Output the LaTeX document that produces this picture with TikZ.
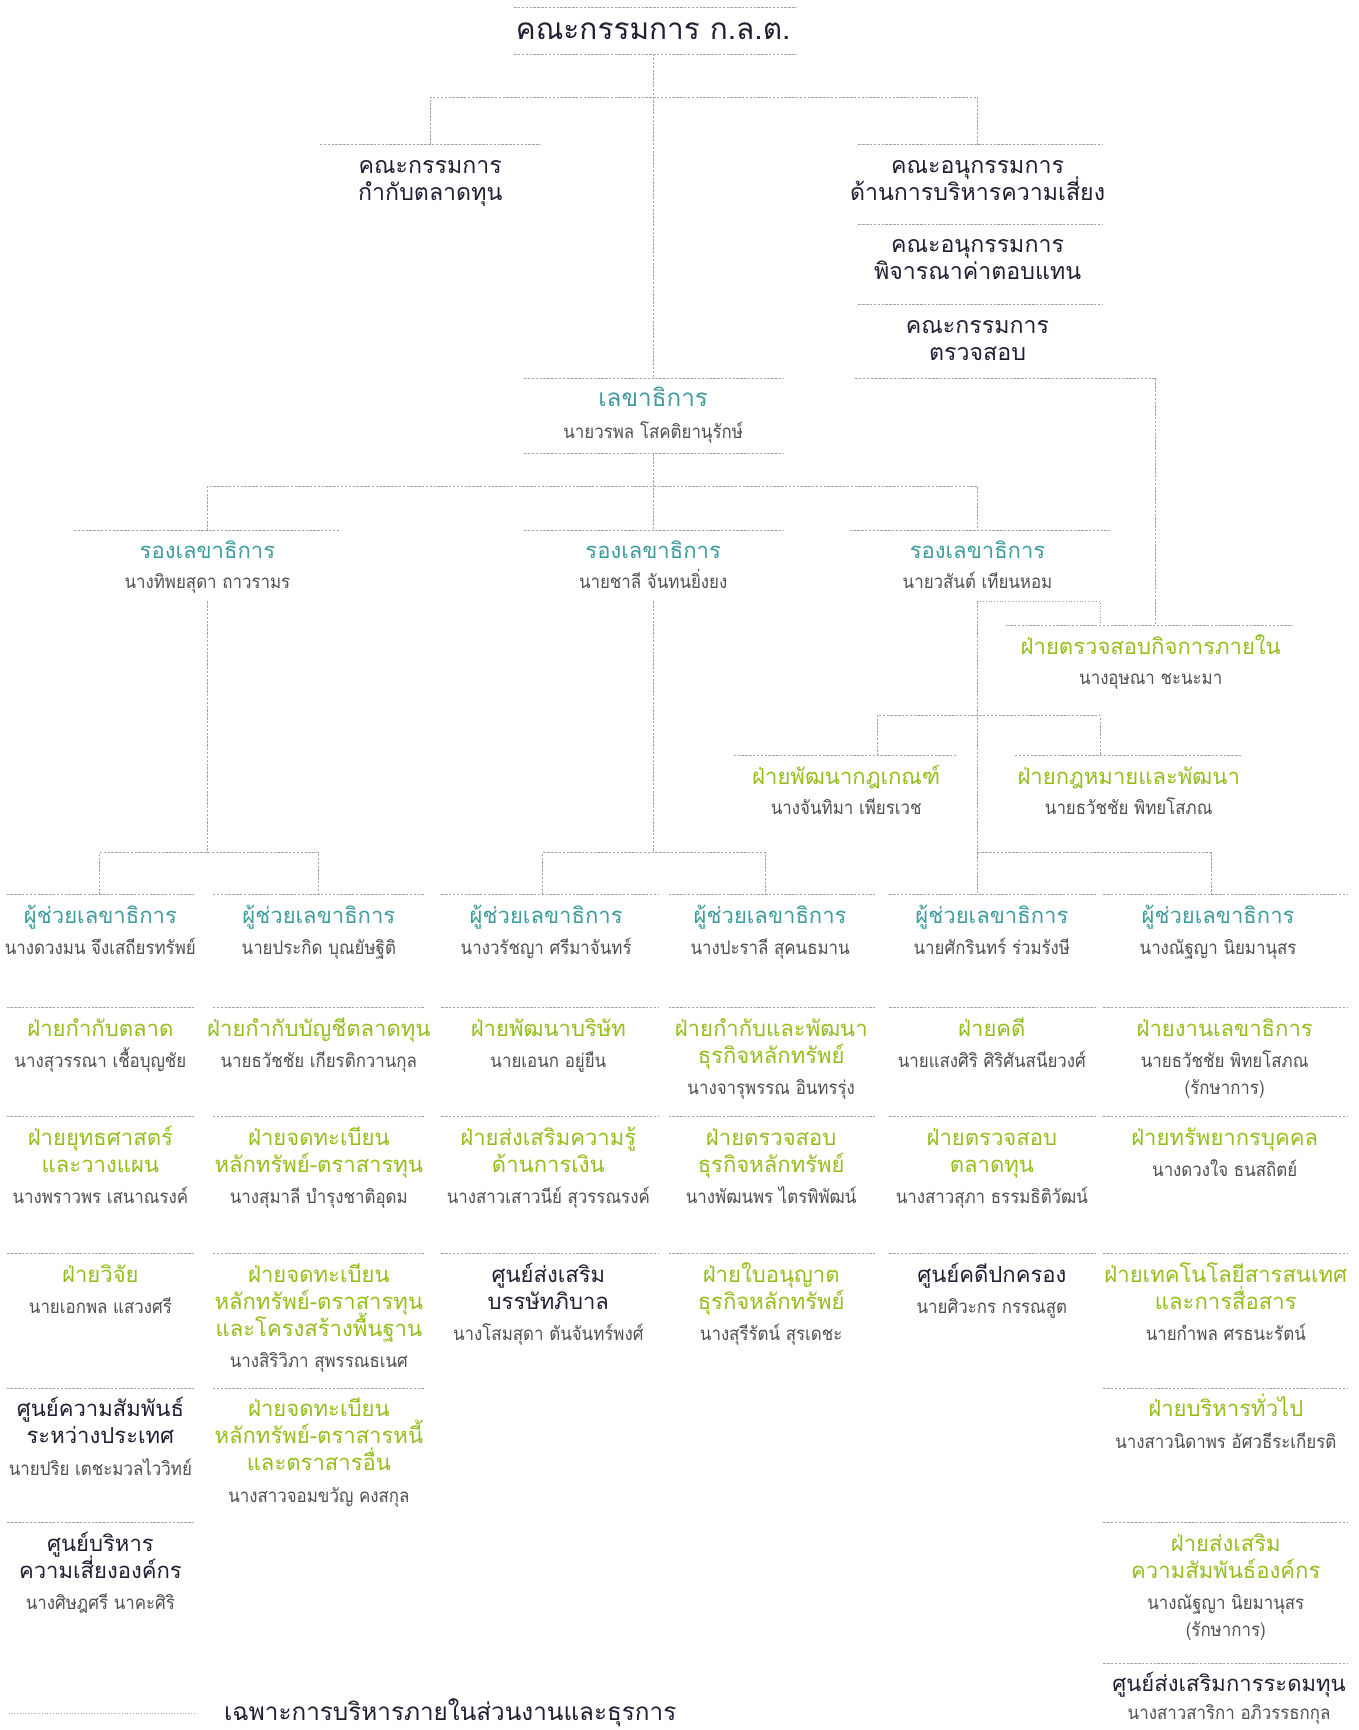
\documentclass[tikz,border=0pt]{standalone}
\usepackage{fontspec}
\newfontfamily\thai[Script=Thai]{Loma}
\newfontfamily\thainm[Script=Thai,FakeStretch=0.9]{Loma}
\definecolor{tealc}{RGB}{62,156,158}
\definecolor{grnc}{RGB}{148,190,28}
\definecolor{navyc}{RGB}{32,32,52}
\definecolor{namec}{RGB}{80,80,80}
\definecolor{linec}{RGB}{165,165,165}
\lineskiplimit=-100pt
\newcommand\T[1]{{\color{tealc}#1}}
\newcommand\G[1]{{\color{grnc}#1}}
\newcommand\K[1]{{\color{navyc}#1}}
\newcommand\N[1]{{\thainm\fontsize{17}{24.5}\selectfont\color{namec}#1}}
\newcommand\fs{\rule{0pt}{26pt}}
\newcommand\sepline[3]{\draw[sepl] (#1,#3) -- (#2,#3);}
\tikzset{
  sepl/.style={draw=linec, line width=0.7pt, dash pattern=on 2.2pt off 1.3pt},
  conn/.style={draw=linec, line width=0.7pt, dash pattern=on 2.2pt off 1.3pt},
  dotconn/.style={draw=linec, line width=0.9pt, dash pattern=on 0.9pt off 1.6pt},
  orgbox/.style={anchor=north, inner sep=0pt, outer sep=0pt, align=center,
    font=\thai\fontsize{20}{24.5}\selectfont},
  combox/.style={orgbox, font=\thai\fontsize{21}{24.5}\selectfont, text=navyc}
}
\begin{document}
\begin{tikzpicture}[x=1pt,y=-1pt]
\fill[white] (0,0) rectangle (1231,1568);
\path[use as bounding box] (0,0) rectangle (1231,1568);

% ---------- board ----------
\sepline{466}{722}{7}
\sepline{466}{722}{49}
\node[orgbox, font=\thai\fontsize{27}{30}\selectfont, text=navyc] (board) at (592,7) {\rule{0pt}{29pt}คณะกรรมการ ก.ล.ต.};
\coordinate (boardB) at (592,49);

% ---------- committees ----------
\sepline{290}{490}{131}
\node[combox] (ccm) at (390,131) {\fs คณะกรรมการ\\กำกับตลาดทุน};
\coordinate (ccmT) at (390,131);

\sepline{778}{1000}{131}
\node[combox] (crisk) at (886,131) {\fs คณะอนุกรรมการ\\ด้านการบริหารความเสี่ยง};
\coordinate (criskT) at (886,131);
\sepline{778}{1000}{203}
\node[combox] (cpay) at (886,203) {\fs คณะอนุกรรมการ\\พิจารณาค่าตอบแทน};
\sepline{778}{1000}{276}
\node[combox] (caud) at (886,276) {\fs คณะกรรมการ\\ตรวจสอบ};
\sepline{775}{1047}{343}
\coordinate (caudR) at (1047,343);

% ---------- secretary general ----------
\sepline{475}{710}{343}
\sepline{475}{710}{411}
\node[orgbox, font=\thai\fontsize{22}{26}\selectfont] (sec) at (592,343) {\rule{0pt}{25pt}\T{เลขาธิการ}\\[3pt]\N{นายวรพล โสคติยานุรักษ์}};
\coordinate (secT) at (592,343);
\coordinate (secB) at (592,411);

% ---------- deputies ----------
\sepline{67}{307}{481}
\sepline{475}{710}{481}
\sepline{770}{1006}{481}
\node[orgbox] (dep1) at (188,481) {\rule{0pt}{25pt}\T{รองเลขาธิการ}\\[3pt]\N{นางทิพยสุดา ถาวรามร}};
\node[orgbox] (dep2) at (592,481) {\rule{0pt}{25pt}\T{รองเลขาธิการ}\\[3pt]\N{นายชาลี จันทนยิ่งยง}};
\node[orgbox] (dep3) at (886,481) {\rule{0pt}{25pt}\T{รองเลขาธิการ}\\[3pt]\N{นายวสันต์ เทียนหอม}};
\coordinate (dep1T) at (188,481);
\coordinate (dep2T) at (592,481);
\coordinate (dep3T) at (886,481);
\coordinate (dep1B) at (188,545);
\coordinate (dep2B) at (592,545);
\coordinate (dep3B) at (886,545);

% ---------- internal audit & rule units ----------
\sepline{912}{1172}{567}
\node[orgbox] (ia) at (1043,567) {\fs\G{ฝ่ายตรวจสอบกิจการภายใน}\\[3pt]\N{นางอุษณา ชะนะมา}};
\coordinate (iaT1) at (997,567);
\coordinate (iaT2) at (1047,567);

\sepline{665}{868}{685}
\sepline{920}{1126}{685}
\node[orgbox] (pr1) at (767,685) {\fs\G{ฝ่ายพัฒนากฎเกณฑ์}\\[3pt]\N{นางจันทิมา เพียรเวช}};
\node[orgbox] (pr2) at (1023,685) {\fs\G{ฝ่ายกฎหมายและพัฒนา}\\[3pt]\N{นายธวัชชัย พิทยโสภณ}};
\coordinate (pr1T) at (795,685);
\coordinate (pr2T) at (997,685);

% ---------- column separators ----------
\foreach \y in {811,913,1012,1136}{
  \sepline{6}{177}{\y}
  \sepline{193}{385}{\y}
  \sepline{400}{597}{\y}
  \sepline{606}{793}{\y}
  \sepline{806}{995}{\y}
  \sepline{1000}{1222}{\y}
}
\sepline{6}{177}{1258}
\sepline{193}{385}{1258}
\sepline{1000}{1222}{1258}
\sepline{6}{177}{1380}
\sepline{1000}{1222}{1380}
\sepline{1000}{1222}{1508}

% ---------- assistants (row A) ----------
\node[orgbox] (a1) at (91,811) {\fs\T{ผู้ช่วยเลขาธิการ}\\[4pt]\N{นางดวงมน จึงเสถียรทรัพย์}};
\node[orgbox] (a2) at (289,811) {\fs\T{ผู้ช่วยเลขาธิการ}\\[4pt]\N{นายประกิด บุณยัษฐิติ}};
\node[orgbox] (a3) at (495,811) {\fs\T{ผู้ช่วยเลขาธิการ}\\[4pt]\N{นางวรัชญา ศรีมาจันทร์}};
\node[orgbox] (a4) at (698,811) {\fs\T{ผู้ช่วยเลขาธิการ}\\[4pt]\N{นางปะราลี สุคนธมาน}};
\node[orgbox] (a5) at (899,811) {\fs\T{ผู้ช่วยเลขาธิการ}\\[4pt]\N{นายศักรินทร์ ร่วมรังษี}};
\node[orgbox] (a6) at (1104,811) {\fs\T{ผู้ช่วยเลขาธิการ}\\[4pt]\N{นางณัฐญา นิยมานุสร}};
\coordinate (a1T) at (90,811);
\coordinate (a2T) at (289,811);
\coordinate (a3T) at (492,811);
\coordinate (a4T) at (694,811);
\coordinate (a5T) at (886,811);
\coordinate (a6T) at (1098,811);

% ---------- row B ----------
\node[orgbox] (b1) at (91,913) {\fs\G{ฝ่ายกำกับตลาด}\\[4pt]\N{นางสุวรรณา เชื้อบุญชัย}};
\node[orgbox] (b2) at (289,913) {\fs\G{ฝ่ายกำกับบัญชีตลาดทุน}\\[4pt]\N{นายธวัชชัย เกียรติกวานกุล}};
\node[orgbox] (b3) at (497,913) {\fs\G{ฝ่ายพัฒนาบริษัท}\\[4pt]\N{นายเอนก อยู่ยืน}};
\node[orgbox] (b4) at (699,913) {\fs\G{ฝ่ายกำกับและพัฒนา}\\\G{ธุรกิจหลักทรัพย์}\\[4pt]\N{นางจารุพรรณ อินทรรุ่ง}};
\node[orgbox] (b5) at (899,913) {\fs\G{ฝ่ายคดี}\\[4pt]\N{นายแสงศิริ ศิริศันสนียวงศ์}};
\node[orgbox] (b6) at (1110,913) {\fs\G{ฝ่ายงานเลขาธิการ}\\[4pt]\N{นายธวัชชัย พิทยโสภณ}\\\N{(รักษาการ)}};

% ---------- row C ----------
\node[orgbox] (c1) at (91,1012) {\fs\G{ฝ่ายยุทธศาสตร์}\\\G{และวางแผน}\\[4pt]\N{นางพราวพร เสนาณรงค์}};
\node[orgbox] (c2) at (289,1012) {\fs\G{ฝ่ายจดทะเบียน}\\\G{หลักทรัพย์-ตราสารทุน}\\[4pt]\N{นางสุมาลี บำรุงชาติอุดม}};
\node[orgbox] (c3) at (497,1012) {\fs\G{ฝ่ายส่งเสริมความรู้}\\\G{ด้านการเงิน}\\[4pt]\N{นางสาวเสาวนีย์ สุวรรณรงค์}};
\node[orgbox] (c4) at (699,1012) {\fs\G{ฝ่ายตรวจสอบ}\\\G{ธุรกิจหลักทรัพย์}\\[4pt]\N{นางพัฒนพร ไตรพิพัฒน์}};
\node[orgbox] (c5) at (899,1012) {\fs\G{ฝ่ายตรวจสอบ}\\\G{ตลาดทุน}\\[4pt]\N{นางสาวสุภา ธรรมธิติวัฒน์}};
\node[orgbox] (c6) at (1110,1012) {\fs\G{ฝ่ายทรัพยากรบุคคล}\\[4pt]\N{นางดวงใจ ธนสถิตย์}};

% ---------- row D ----------
\node[orgbox] (d1) at (91,1136) {\fs\G{ฝ่ายวิจัย}\\[4pt]\N{นายเอกพล แสวงศรี}};
\node[orgbox] (d2) at (289,1136) {\fs\G{ฝ่ายจดทะเบียน}\\\G{หลักทรัพย์-ตราสารทุน}\\\G{และโครงสร้างพื้นฐาน}\\[4pt]\N{นางสิริวิภา สุพรรณธเนศ}};
\node[orgbox] (d3) at (497,1136) {\fs\K{ศูนย์ส่งเสริม}\\\K{บรรษัทภิบาล}\\[4pt]\N{นางโสมสุดา ตันจันทร์พงศ์}};
\node[orgbox] (d4) at (699,1136) {\fs\G{ฝ่ายใบอนุญาต}\\\G{ธุรกิจหลักทรัพย์}\\[4pt]\N{นางสุรีรัตน์ สุรเดชะ}};
\node[orgbox] (d5) at (899,1136) {\fs\K{ศูนย์คดีปกครอง}\\[4pt]\N{นายศิวะกร กรรณสูต}};
\node[orgbox] (d6) at (1111,1136) {\fs\G{ฝ่ายเทคโนโลยีสารสนเทศ}\\\G{และการสื่อสาร}\\[4pt]\N{นายกำพล ศรธนะรัตน์}};

% ---------- row E ----------
\node[orgbox] (e1) at (91,1258) {\fs\K{ศูนย์ความสัมพันธ์}\\\K{ระหว่างประเทศ}\\[4pt]\N{นายปริย เตชะมวลไววิทย์}};
\node[orgbox] (e2) at (289,1258) {\fs\G{ฝ่ายจดทะเบียน}\\\G{หลักทรัพย์-ตราสารหนี้}\\\G{และตราสารอื่น}\\[4pt]\N{นางสาวจอมขวัญ คงสกุล}};
\node[orgbox] (e6) at (1111,1258) {\fs\G{ฝ่ายบริหารทั่วไป}\\[4pt]\N{นางสาวนิดาพร อัศวธีระเกียรติ}};

% ---------- row F ----------
\node[orgbox] (f1) at (91,1380) {\fs\K{ศูนย์บริหาร}\\\K{ความเสี่ยงองค์กร}\\[4pt]\N{นางศิษฎศรี นาคะศิริ}};
\node[orgbox] (f6) at (1111,1380) {\fs\G{ฝ่ายส่งเสริม}\\\G{ความสัมพันธ์องค์กร}\\[4pt]\N{นางณัฐญา นิยมานุสร}\\\N{(รักษาการ)}};

% ---------- row G ----------
\node[orgbox] (g6) at (1114,1508) {\rule{0pt}{25pt}\K{ศูนย์ส่งเสริมการระดมทุน}\\[1pt]\N{นางสาวสาริกา อภิวรรธกกุล}};

% ---------- connectors ----------
\draw[conn] (boardB) -- (secT);
\draw[conn] (ccmT) -- ++(0,-43) -| (criskT);
\draw[conn] (secB) -- (dep2T);
\draw[conn] (dep1T) -- ++(0,-40) -| (dep3T);
\coordinate (j1) at (188,773);
\coordinate (j2) at (592,773);
\coordinate (j3) at (886,773);
\draw[conn] (dep1B) -- (j1);
\draw[conn] (a1T) -- ++(0,-38) -| (a2T);
\draw[conn] (dep2B) -- (j2);
\draw[conn] (a3T) -- ++(0,-38) -| (a4T);
\draw[conn] (dep3B) -- (a5T);
\draw[dotconn] (dep3B) -| (iaT1);
\draw[conn] (pr1T) -- ++(0,-37) -| (pr2T);
\draw[conn] (j3) -| (a6T);
\draw[conn] (caudR) -- (iaT2);

% ---------- legend ----------
\coordinate (legL) at (8,1553);
\coordinate (legR) at (178,1553);
\draw[dotconn] (legL) -- (legR);
\node[anchor=base, inner sep=0pt, font=\thai\fontsize{22}{26}\selectfont, text=navyc] (legtext) at (408,1559) {เฉพาะการบริหารภายในส่วนงานและธุรการ};
\end{tikzpicture}
\end{document}
